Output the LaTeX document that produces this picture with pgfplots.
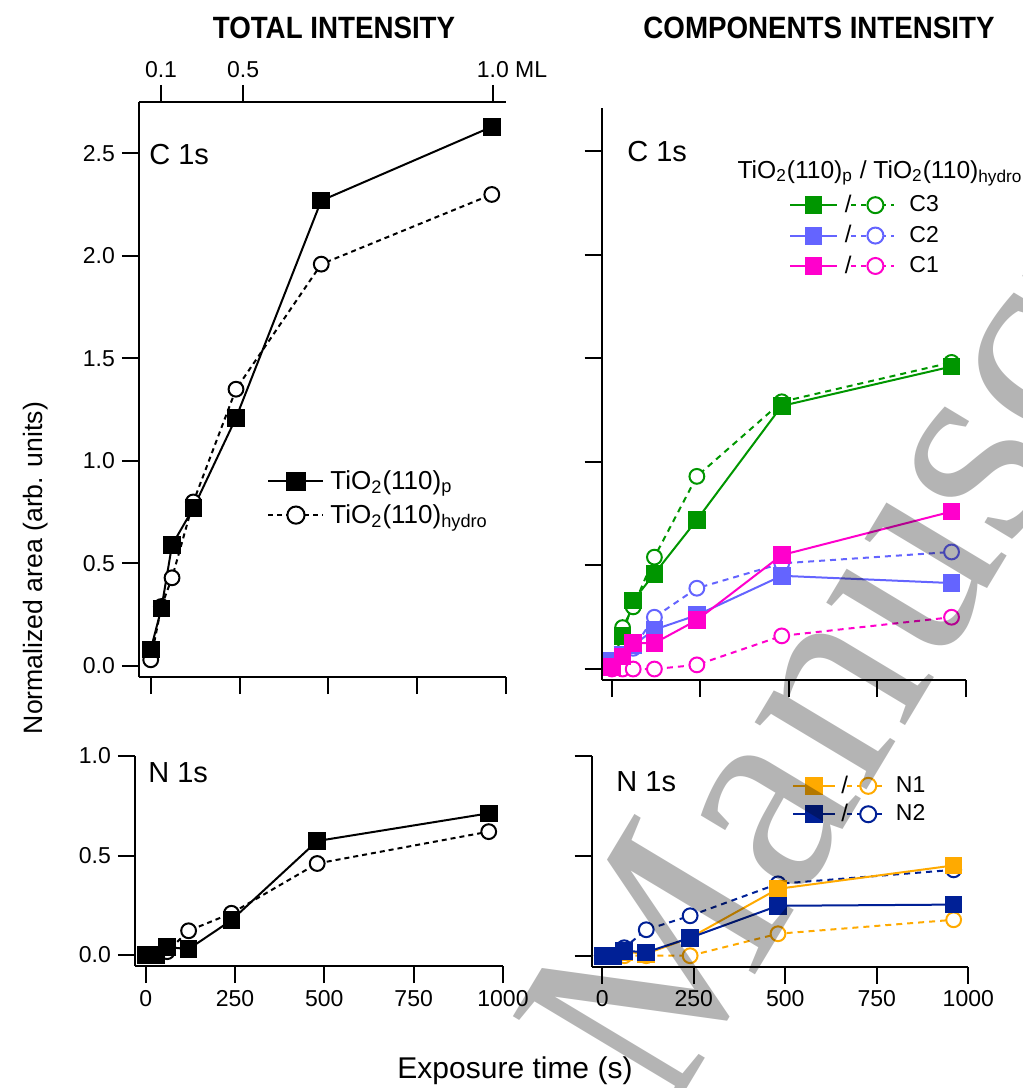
\documentclass[border=0pt]{standalone}
\usepackage{fontspec}
\setmainfont{Liberation Sans}
\newfontfamily\titlefont[FakeStretch=0.9]{Liberation Sans}
\newfontfamily\wmfont{Liberation Serif}
\usepackage{pgfplots}
\pgfplotsset{compat=1.18}

\definecolor{cgreen}{RGB}{0,150,0}
\definecolor{cblue}{RGB}{100,100,255}
\definecolor{cmag}{RGB}{255,0,204}
\definecolor{corange}{RGB}{255,170,0}
\definecolor{cnavy}{RGB}{0,32,150}
\definecolor{wm}{RGB}{180,180,180}

\newcommand\ti{TiO\textsubscript{2}(110)}
% legend image: solid+square / dashed+circle
\newcommand\pairimg[2]{%
  \draw[#1,solid,line width=1pt] (0pt,0pt) -- (#2*23.5pt,0pt);
  \fill[#1] (#2*11.5pt-4.2pt,-4.2pt) rectangle (#2*11.5pt+4.2pt,4.2pt);
  \node[black,inner sep=0pt,font=\fontsize{12}{13}\selectfont] at (#2*27pt,0pt) {/};
  \draw[#1,line width=1pt,dash pattern=on 2.5pt off 2.5pt] (#2*30.5pt,0pt) -- (#2*52pt,0pt);
  \draw[#1,solid,line width=1pt,fill=white] (#2*42.5pt,0pt) circle (4pt);
}

\pgfplotsset{
  panel/.style={
    scale only axis, anchor=south west,
    axis x line*=bottom, axis y line*=left,
    axis line style={-,line width=1pt},
    every tick/.style={black,line width=1pt},
    major tick length=8.5pt, tick align=outside,
    xmax=1000, xtick={0,250,500,750,1000},
    tick label style={font=\fontsize{11.5}{13}\selectfont},
    clip=false,
  },
  pset/.style={color=#1, solid, line width=1pt, mark=square*, mark size=3.9pt,
    mark options={solid,fill=#1}},
  hset/.style={color=#1, line width=1pt, dash pattern=on 3pt off 2.5pt, mark=*,
    mark size=3.7pt, mark options={solid,fill=white}},
}

\begin{document}
\begin{tikzpicture}
\begin{scope}[x=0.5pt,y=-0.5pt]
\useasboundingbox (0,0) rectangle (1023,1088);
\end{scope}

% ---------- top left: total C 1s
\begin{axis}[panel, at={(69.5pt,-338.5pt)}, width=183.5pt, height=287.5pt,
  xmin=-33, ymin=-0.054, ymax=2.751, xticklabels={},
  ytick={0,0.5,1,1.5,2,2.5}, yticklabels={0.0,0.5,1.0,1.5,2.0,2.5},
  legend style={at={(0.349,0.311)}, anchor=west, draw=none, fill=none,
    inner sep=0pt, row sep=6pt, font=\fontsize{13}{14}\selectfont,
    nodes={inner sep=0pt}, /tikz/every odd column/.style={column sep=3pt}},
  legend cell align=left]
\addlegendimage{pset=black, mark size=4.3pt,
  legend image code/.code={\draw[mark repeat=2,mark phase=2] plot coordinates {(0pt,0pt) (13.75pt,0pt) (27.5pt,0pt)};}}
\addlegendentry{\ti\textsubscript{p}}
\addlegendimage{hset=black, dash pattern=on 2.5pt off 2pt, mark size=4.3pt,
  legend image code/.code={\draw[mark repeat=2,mark phase=2] plot coordinates {(0pt,0pt) (13.75pt,0pt) (27.5pt,0pt)};}}
\addlegendentry{\ti\textsubscript{hydro}}
\addplot[hset=black, dash pattern=on 2.5pt off 2pt, forget plot] coordinates {
  (0,0.03) (30,0.29) (60,0.43) (120,0.80) (240,1.35) (480,1.96) (960,2.30)};
\addplot[pset=black, forget plot] coordinates {
  (0,0.08) (30,0.28) (60,0.59) (120,0.77) (240,1.21) (480,2.27) (960,2.63)};
\end{axis}
% top coverage axis
\begin{axis}[scale only axis, anchor=south west, at={(69.5pt,-338.5pt)},
  width=183.5pt, height=287.5pt, xmin=-33, xmax=1000, ymin=0, ymax=1,
  axis x line*=top, axis y line=none, axis line style={-,line width=1pt},
  every tick/.style={black,line width=1pt}, major tick length=8.5pt, tick align=outside,
  xtick={29,260,963}, xticklabels={0.1,0.5,1.0\rlap{\ ML}},
  tick label style={font=\fontsize{11.5}{13}\selectfont}]
\end{axis}

% ---------- top right: C 1s components
\begin{axis}[panel, at={(300.85pt,-340pt)}, width=182pt, height=286pt,
  xmin=-29, ymin=-0.053, ymax=2.708, xticklabels={},
  ytick={0,0.5,1,1.5,2,2.5}, yticklabels={},
  legend style={at={(0.5146,0.777)}, anchor=west, draw=none, fill=none,
    inner sep=0pt, row sep=5pt, font=\fontsize{11.5}{12}\selectfont,
    nodes={inner sep=0pt}, /tikz/every odd column/.style={column sep=7pt}},
  legend cell align=left]
\addlegendimage{legend image code/.code={\pairimg{cgreen}{1}}}
\addlegendentry{C3}
\addlegendimage{legend image code/.code={\pairimg{cblue}{1}}}
\addlegendentry{C2}
\addlegendimage{legend image code/.code={\pairimg{cmag}{1}}}
\addlegendentry{C1}
\addplot[hset=cgreen, forget plot] coordinates {
  (0,0.03) (30,0.20) (60,0.30) (120,0.54) (240,0.93) (480,1.29) (960,1.48)};
\addplot[pset=cgreen, forget plot] coordinates {
  (0,0.04) (30,0.16) (60,0.33) (120,0.46) (240,0.72) (480,1.27) (960,1.46)};
\addplot[hset=cblue, forget plot] coordinates {
  (0,0.02) (30,0.05) (60,0.10) (120,0.25) (240,0.39) (480,0.51) (960,0.565)};
\addplot[pset=cblue, forget plot] coordinates {
  (0,0.04) (30,0.07) (60,0.115) (120,0.19) (240,0.26) (480,0.45) (960,0.415)};
\addplot[hset=cmag, forget plot] coordinates {
  (0,0.00) (30,0.00) (60,0.00) (120,0.00) (240,0.02) (480,0.16) (960,0.25)};
\addplot[pset=cmag, forget plot] coordinates {
  (0,0.01) (30,0.06) (60,0.125) (120,0.125) (240,0.236) (480,0.55) (960,0.76)};
\end{axis}

% ---------- bottom left: total N 1s
\begin{axis}[panel, at={(67.5pt,-483pt)}, width=184pt, height=105pt,
  xmin=-30, ymin=-0.055, ymax=1,
  xticklabels={0,250,500,750,1000},
  ytick={0,0.5,1}, yticklabels={0.0,0.5,1.0}]
\addplot[hset=black, dash pattern=on 2.5pt off 2pt, forget plot] coordinates {
  (0,0.0) (30,0.0) (60,0.017) (120,0.122) (240,0.21) (480,0.46) (960,0.62)};
\addplot[pset=black, forget plot] coordinates {
  (0,0.0) (30,0.0) (60,0.04) (120,0.03) (240,0.175) (480,0.573) (960,0.712)};
\end{axis}

% ---------- bottom right: N 1s components
\begin{axis}[panel, at={(295.85pt,-483.35pt)}, width=188.3pt, height=105.35pt,
  xmin=-29, ymin=-0.055, ymax=1,
  xticklabels={0,250,500,750,1000},
  ytick={0,0.5,1}, yticklabels={},
  legend style={at={(0.532,0.791)}, anchor=west, draw=none, fill=none,
    inner sep=0pt, row sep=4pt, font=\fontsize{11.5}{12}\selectfont,
    nodes={inner sep=0pt}, /tikz/every odd column/.style={column sep=5pt}},
  legend cell align=left]
\addlegendimage{legend image code/.code={\pairimg{corange}{0.88}}}
\addlegendentry{N1}
\addlegendimage{legend image code/.code={\pairimg{cnavy}{0.88}}}
\addlegendentry{N2}
\addplot[hset=corange, forget plot] coordinates {
  (0,0.0) (30,0.0) (60,0.0) (120,0.0) (240,0.0) (480,0.11) (960,0.18)};
\addplot[hset=cnavy, forget plot] coordinates {
  (0,0.0) (30,0.0) (60,0.04) (120,0.13) (240,0.20) (480,0.36) (960,0.43)};
\addplot[pset=corange, forget plot] coordinates {
  (0,0.0) (30,0.0) (60,0.02) (120,0.01) (240,0.09) (480,0.335) (960,0.452)};
\addplot[pset=cnavy, forget plot] coordinates {
  (0,0.0) (30,0.0) (60,0.025) (120,0.017) (240,0.09) (480,0.25) (960,0.256)};
\end{axis}

% ---------- texts
\begin{scope}[x=0.5pt,y=-0.5pt]
\node[font=\titlefont\bfseries\fontsize{15.4}{16}\selectfont, inner sep=0pt] at (334,28) {TOTAL INTENSITY};
\node[font=\titlefont\bfseries\fontsize{15.4}{16}\selectfont, inner sep=0pt] at (819,28) {COMPONENTS INTENSITY};
\node[font=\fontsize{14.5}{16}\selectfont, inner sep=0pt, anchor=west] at (149,155) {C 1s};
\node[font=\fontsize{14.5}{16}\selectfont, inner sep=0pt, anchor=west] at (627,152) {C 1s};
\node[font=\fontsize{14.5}{16}\selectfont, inner sep=0pt, anchor=west] at (148,773) {N 1s};
\node[font=\fontsize{14.5}{16}\selectfont, inner sep=0pt, anchor=west] at (616,782) {N 1s};
\node[font=\fontsize{12.3}{14}\selectfont, inner sep=0pt] at (880,173) {\ti\textsubscript{p} / \ti\textsubscript{hydro}};
\node[font=\fontsize{13.3}{15}\selectfont, inner sep=0pt, rotate=90, anchor=base] at (42,568) {Normalized area (arb. units)};
\node[font=\fontsize{15}{17}\selectfont, inner sep=0pt, anchor=base] at (515,1078) {Exposure time (s)};
\begin{scope}[blend mode=multiply]
\node[font=\wmfont\fontsize{142}{142}\selectfont, text=wm, rotate=59, anchor=base west,
  inner sep=0pt, overlay] at (668,1120) {Manuscript};
\end{scope}
\end{scope}
\end{tikzpicture}
\end{document}
